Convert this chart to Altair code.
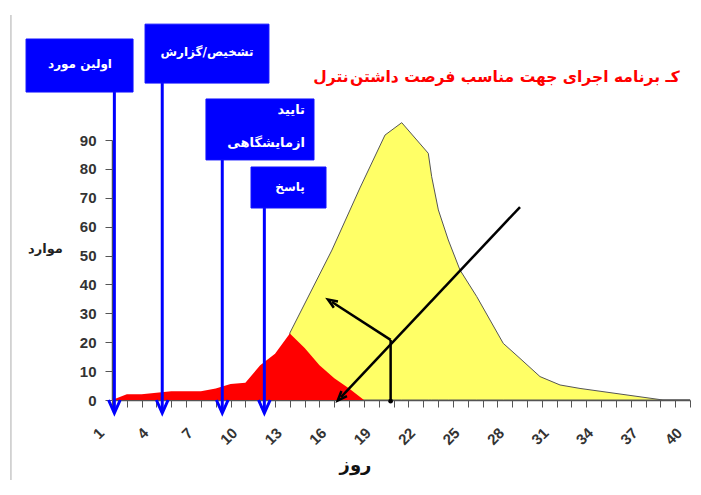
import altair as alt
import pandas as pd

# ---- data ----
red_days = list(range(1, 19))
red_cases = [0, 2, 2, 2.5, 3, 3, 3, 4, 5.5, 6, 12, 16, 23, 18, 12, 7.5, 4, 0]

yellow_days = [13.0, 15.84, 17.73, 19.42, 20.55, 22.34, 22.57, 23.02, 23.69, 24.48,
               25.61, 27.40, 28.53, 29.88, 31.23, 32.58, 38.18, 40.0]
yellow_cases = [23.2, 51.9, 73.4, 91.7, 96.0, 85.4, 77.3, 65.8, 55.4, 45.0,
                35.8, 19.6, 14.4, 8.1, 5.2, 4.0, 0, 0]

axis_days = list(range(1, 41))
y_ticks = [0, 10, 20, 30, 40, 50, 60, 70, 80, 90]

event_days = [1.16, 4.39, 8.44, 11.28]
event_tops = [106.6, 109.7, 83.1, 66.5]
event_tip = -4.3
event_head = -2.25

box_x1 = [-4.80, 3.23, 7.34, 10.38]
box_x2 = [2.42, 11.59, 14.63, 15.44]
box_top = [124.96, 130.1, 104.2, 80.65]
box_bottom = [106.6, 109.7, 83.1, 66.46]

centered_labels = ["اولین مورد", "تشخیص/گزارش", "پاسخ"]
centered_x = [-1.16, 7.41, 13.01]
centered_y = [116.3, 120.5, 73.7]

right_labels = ["تایید", "ازمایشگاهی"]
right_x = [14.02, 14.02]
right_y = [100.4, 89.0]

arrow_x1 = [28.53, 19.8, 19.8]
arrow_y1 = [66.8, 20.8, 20.8]
arrow_x2 = [16.45, 15.84, 19.8]
arrow_y2 = [1.0, 33.9, -0.4]
head_x = [16.45, 15.84]
head_y = [1.0, 33.9]
head_angle = [223, 303]

title_left = "نترل"
title_words = ["داشتن", "فرصت", "مناسب", "جهت", "اجرای", "برنامه", "کـ"]
title_x = 17.06
title_y = 111.8

border_x = -5.82
border_y = [133.3, -28]

FA = "DejaVu Sans"
LAT = "Liberation Sans"

xs = alt.Scale(domain=[1, 40], nice=False, zero=False)
ys = alt.Scale(domain=[0, 90], nice=False, zero=False)

x_axis = alt.Axis(values=axis_days, labelExpr="(datum.value-1)%3==0 ? datum.label : ''",
                  labelAngle=-45, labelAlign="right", labelBaseline="middle",
                  labelPadding=23, labelOffset=-11, labelOverlap=False,
                  labelFont=LAT, labelFontSize=15, labelFontWeight="bold", labelColor="#333333",
                  tickSize=7, tickColor="#555555", domainColor="#555555", domainWidth=1.5,
                  grid=False, titleFont=FA, titleFontSize=18, titleFontWeight="bold",
                  titleColor="#111111", titleX=243, titleY=65, titleAlign="center",
                  titleBaseline="middle", titleAnchor="start")
y_axis = alt.Axis(values=y_ticks, labelFont=LAT, labelFontSize=15, labelFontWeight="bold",
                  labelColor="#333333", labelPadding=9, tickSize=7, tickColor="#555555",
                  domainColor="#555555", domainWidth=1.5, grid=False,
                  titleFont=FA, titleFontSize=13, titleFontWeight="bold", titleColor="#222222",
                  titleAngle=0, titleX=-67, titleY=108, titleAlign="center",
                  titleBaseline="middle", titleAnchor="start")


def X(f):
    return alt.X(f, type="quantitative", scale=xs, axis=x_axis, title="روز")


def Y(f):
    return alt.Y(f, type="quantitative", scale=ys, axis=y_axis, title="موارد", stack=None)


yellow_df = pd.DataFrame({"d": yellow_days, "c": yellow_cases})
red_df = pd.DataFrame({"d": red_days, "c": red_cases})

yellow = alt.Chart(yellow_df).mark_area(
    fill="#ffff66", stroke="#555555", strokeWidth=1, clip=False
).encode(x=X("d"), y=Y("c"))

red = alt.Chart(red_df).mark_area(fill="#ff0000", clip=False).encode(
    x=X("d"), y=Y("c")
)

ev_df = pd.DataFrame({"d": event_days, "top": event_tops, "tip": [event_tip] * 4,
                      "head": [event_head] * 4})
ev_lines = alt.Chart(ev_df).mark_rule(color="#0000ff", strokeWidth=3).encode(
    x=X("d"), y=Y("top"), y2=alt.Y2("tip")
)
ev_heads = alt.Chart(ev_df).mark_point(
    shape="M-0.9,-1L0,1L0.9,-1", filled=False, stroke="#0000ff", strokeWidth=3,
    size=169, opacity=1
).encode(x=X("d"), y=Y("head"))

box_df = pd.DataFrame({"x1": box_x1, "x2": box_x2, "t": box_top, "b": box_bottom})
boxes = alt.Chart(box_df).mark_rect(fill="#0000ff", stroke="#1010ff", strokeWidth=1).encode(
    x=X("x1"), x2=alt.X2("x2"), y=Y("t"), y2=alt.Y2("b")
)

cl_df = pd.DataFrame({"t": centered_labels, "x": centered_x, "y": centered_y})
cl_text = alt.Chart(cl_df).mark_text(
    font=FA, fontSize=12, fontWeight="bold", color="white", align="center", baseline="middle"
).encode(x=X("x"), y=Y("y"), text="t:N")

rl_df = pd.DataFrame({"t": right_labels, "x": right_x, "y": right_y})
rl_text = alt.Chart(rl_df).mark_text(
    font=FA, fontSize=13, fontWeight="bold", color="white", align="right", baseline="middle"
).encode(x=X("x"), y=Y("y"), text="t:N")

ar_df = pd.DataFrame({"x1": arrow_x1, "y1": arrow_y1, "x2": arrow_x2, "y2": arrow_y2})
arrows = alt.Chart(ar_df).mark_rule(color="black", strokeWidth=2.5).encode(
    x=X("x1"), y=Y("y1"), x2=alt.X2("x2"), y2=alt.Y2("y2")
)
hd_df = pd.DataFrame({"x": head_x, "y": head_y, "a": head_angle})
heads = alt.Chart(hd_df).mark_point(
    shape="M-0.8,1L0,-1L0.8,1", filled=False, stroke="black", strokeWidth=2.5, size=90, opacity=1
).encode(x=X("x"), y=Y("y"), angle=alt.Angle("a:Q", scale=None))
dot = alt.Chart(pd.DataFrame({"x": [arrow_x2[2]], "y": [arrow_y2[2]]})).mark_point(
    shape="circle", filled=True, color="black", size=22, opacity=1
).encode(x=X("x"), y=Y("y"))

title_df = pd.DataFrame({"t": ["\u200e" + "\u200e \u200e".join(title_words)],
                         "x": [title_x], "y": [title_y]})
title_r = alt.Chart(title_df).mark_text(
    font=FA, fontSize=15.5, fontWeight="bold", color="#ff0000", align="left", baseline="middle"
).encode(x=X("x"), y=Y("y"), text="t:N")
title_l = alt.Chart(pd.DataFrame({"t": [title_left], "x": [title_x - 0.1], "y": [title_y]})).mark_text(
    font=FA, fontSize=15.5, fontWeight="bold", color="#ff0000", align="right", baseline="middle"
).encode(x=X("x"), y=Y("y"), text="t:N")

border = alt.Chart(pd.DataFrame({"x": [border_x], "y1": [border_y[0]], "y2": [border_y[1]]})).mark_rule(
    color="#c8c8c8", strokeWidth=1.5
).encode(x=X("x"), y=Y("y1"), y2=alt.Y2("y2"))

chart = alt.layer(
    yellow, border, red, arrows, heads, dot, ev_lines, ev_heads, boxes, cl_text, rl_text,
    title_l, title_r
).properties(
    width=578, height=260,
    padding={"left": 104, "top": 132, "right": 3, "bottom": 80},
    autosize=alt.AutoSizeParams(type="none"),
    background="white",
).configure_view(stroke=None)

chart.save("out.html", embed_options={"renderer": "svg", "actions": False})
